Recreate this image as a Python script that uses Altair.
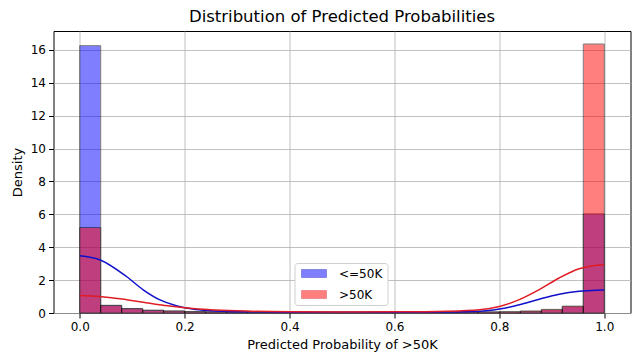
import altair as alt
import pandas as pd

# bin edges (25 bins of width 0.04)
bin_edges = [round(i * 0.04, 2) for i in range(26)]
labels = ["<=50K", ">50K"]

dens_le50 = [16.26, 0.47, 0.27, 0.17, 0.12, 0.08, 0.06, 0.05, 0.05, 0.04, 0.04, 0.04, 0.04,
             0.04, 0.04, 0.04, 0.04, 0.04, 0.05, 0.05, 0.06, 0.10, 0.18, 0.38, 6.03]
dens_gt50 = [5.20, 0.45, 0.26, 0.16, 0.12, 0.08, 0.07, 0.06, 0.05, 0.05, 0.05, 0.05, 0.05,
             0.05, 0.05, 0.05, 0.05, 0.06, 0.06, 0.07, 0.08, 0.12, 0.22, 0.42, 16.36]

kde_x = [0.0, 0.038, 0.089, 0.121, 0.152, 0.184, 0.215, 0.248, 0.3, 0.4, 0.5, 0.6, 0.7,
         0.762, 0.8, 0.838, 0.876, 0.914, 0.952, 0.985, 1.0]
kde_le50 = [3.48, 3.24, 2.22, 1.41, 0.81, 0.44, 0.24, 0.14, 0.08, 0.05, 0.04, 0.05, 0.06,
            0.10, 0.24, 0.50, 0.84, 1.14, 1.32, 1.39, 1.40]
kde_gt50 = [1.07, 1.01, 0.81, 0.66, 0.50, 0.38, 0.27, 0.20, 0.13, 0.07, 0.06, 0.07, 0.11,
            0.20, 0.40, 0.81, 1.42, 2.13, 2.69, 2.91, 2.94]

rows = []
for lab, dens in zip(labels, [dens_le50, dens_gt50]):
    for i, d in enumerate(dens):
        rows.append({"x0": bin_edges[i], "x1": bin_edges[i + 1], "density": d, "label": lab,
                     "k": labels.index(lab)})
bars_df = pd.DataFrame(rows)

krows = []
for lab, ys in zip(labels, [kde_le50, kde_gt50]):
    for xv, yv in zip(kde_x, ys):
        krows.append({"x": xv, "y": yv, "label": lab})
kde_df = pd.DataFrame(krows)

xscale = alt.Scale(domain=[-0.05, 1.05], nice=False, zero=False)
yscale = alt.Scale(domain=[0, 17.15], nice=False)
xaxis = alt.Axis(values=[0, 0.2, 0.4, 0.6, 0.8, 1.0], format=".1f",
                 title="Predicted Probability of >50K", labelOverlap=False)
yaxis = alt.Axis(values=[0, 2, 4, 6, 8, 10, 12, 14, 16], title="Density",
                 labelOverlap=False, format="d")

bars = alt.Chart(bars_df).mark_bar(opacity=0.5, stroke="black", strokeWidth=1).encode(
    x=alt.X("x0:Q", scale=xscale, axis=xaxis),
    x2="x1:Q",
    y=alt.Y("density:Q", scale=yscale, axis=yaxis),
    y2=alt.datum(0),
    color=alt.Color("label:N", scale=alt.Scale(domain=labels, range=["#0000ff", "#ff0000"]),
                    sort=labels,
                    legend=alt.Legend(title=None, orient="none", legendX=241, legendY=232,
                                      symbolType="M-2.5,-0.8L2.5,-0.8L2.5,0.8L-2.5,0.8Z",
                                      symbolSize=100, symbolStrokeColor="black",
                                      symbolStrokeWidth=1, labelFontSize=12,
                                      symbolOffset=9, labelOffset=19,
                                      fillColor="white", strokeColor="#d0d0d0",
                                      padding=4.5, cornerRadius=3, rowPadding=9,
                                      labelFont="DejaVu Sans", labelColor="black")),
    order=alt.Order("k:Q", sort="ascending"),
)

lines = alt.Chart(kde_df).mark_line(strokeWidth=1.5, interpolate="monotone").encode(
    x=alt.X("x:Q", scale=xscale, axis=xaxis),
    y=alt.Y("y:Q", scale=yscale, axis=yaxis),
    stroke=alt.Stroke("label:N", scale=alt.Scale(domain=labels, range=["#1010cc", "#e01c24"]),
                      legend=None),
)

chart = alt.layer(bars, lines).properties(
    width=577, height=282,
    title=alt.TitleParams("Distribution of Predicted Probabilities", fontSize=16.5,
                          font="DejaVu Sans", fontWeight="normal", color="black", offset=6),
    autosize=alt.AutoSizeParams(type="none"),
    padding={"left": 45.5, "top": 23, "right": 1, "bottom": 40},
).configure_view(stroke="black", strokeWidth=1).configure_axis(
    grid=True, gridColor="#b0b0b0", gridWidth=0.8, domain=False,
    tickColor="black", tickSize=5, labelFont="DejaVu Sans", labelFontSize=12,
    labelColor="black", titleFont="DejaVu Sans", titleFontSize=13, titleFontWeight="normal",
    titleColor="black", labelPadding=3, titlePadding=6,
)

chart.save("out.html", embed_options={"renderer": "svg", "actions": False})
